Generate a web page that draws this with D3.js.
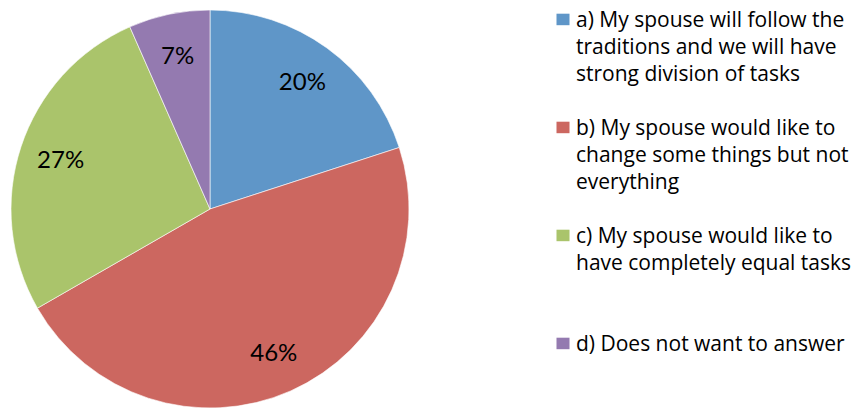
<!DOCTYPE html>
<html>
<head>
<meta charset="utf-8">
<script src="https://cdn.jsdelivr.net/npm/d3@7"></script>
<style>
  html, body { margin: 0; padding: 0; background: #fff; }
  svg { display: block; }
</style>
</head>
<body>
<svg id="chart" width="851" height="409"></svg>
<script>
const categories = ["a", "b", "c", "d"];
const values = [20, 46.7, 26.7, 6.6];
const valueLabels = ["20%", "46%", "27%", "7%"];
const legendLines = [
  ["a) My spouse will follow the", "traditions and we will have", "strong division of tasks"],
  ["b) My spouse would like to", "change some things but not", "everything"],
  ["c) My spouse would like to", "have completely equal tasks"],
  ["d) Does not want to answer"]
];
const colors = ["#5F96C8", "#CC6760", "#AAC46B", "#947AB0"];

const svg = d3.select("#chart");
const cx = 210, cy = 209, R = 199;

const pie = d3.pie().sort(null).value(d => d)(values);
const arc = d3.arc().innerRadius(0).outerRadius(R);
const labelArc = d3.arc().innerRadius(R * 0.79).outerRadius(R * 0.79);

const g = svg.append("g").attr("transform", `translate(${cx},${cy})`);
g.selectAll("path.slice").data(pie).join("path")
  .attr("class", "slice")
  .attr("d", arc)
  .attr("fill", (d, i) => colors[i])
  .attr("stroke", "#ffffff")
  .attr("stroke-width", 0.6);

g.selectAll("text.lbl").data(pie).join("text")
  .attr("class", "lbl")
  .attr("x", d => labelArc.centroid(d)[0])
  .attr("y", d => labelArc.centroid(d)[1] + 8.5)
  .attr("text-anchor", "middle")
  .attr("font-family", "Lato, 'Open Sans', sans-serif")
  .attr("font-size", 24)
  .attr("fill", "#000")
  .text((d, i) => valueLabels[i]);

// legend
const slotStart = [0, 4, 8, 12];
const lineH = 27, base0 = 27;
const lg = svg.append("g");
categories.forEach((c, i) => {
  const y0 = base0 + slotStart[i] * lineH;
  lg.append("rect")
    .attr("x", 556.5).attr("y", y0 - 13.3)
    .attr("width", 13).attr("height", 11.5)
    .attr("fill", colors[i]);
  const t = lg.append("text")
    .attr("font-family", "'Open Sans', Lato, sans-serif")
    .attr("font-size", 21)
    .attr("fill", "#000");
  legendLines[i].forEach((line, j) => {
    t.append("tspan").attr("x", 576).attr("y", y0 + j * lineH).text(line);
  });
});
</script>
</body>
</html>
